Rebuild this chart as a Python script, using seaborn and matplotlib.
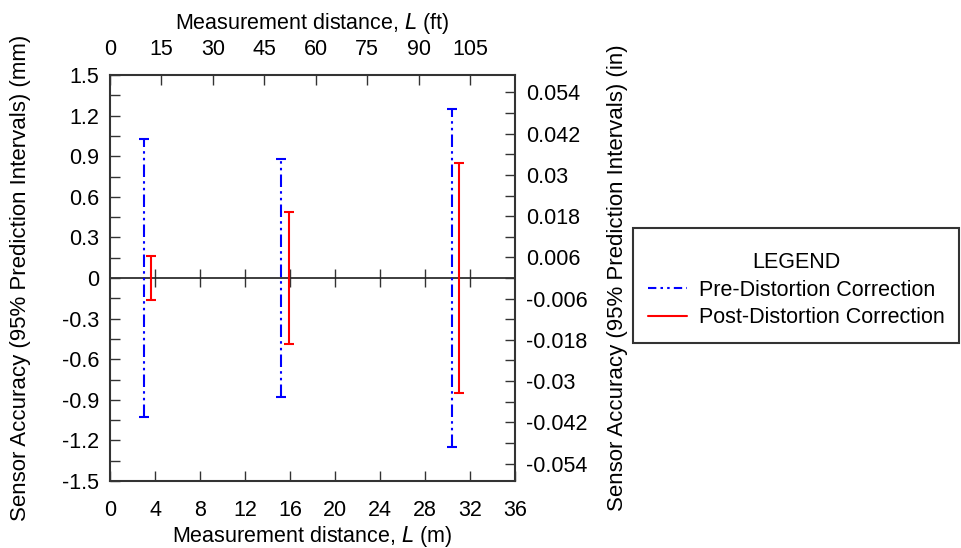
import numpy as np
import pandas as pd
import seaborn as sns
import matplotlib
matplotlib.use("Agg")
import matplotlib.pyplot as plt
from matplotlib.lines import Line2D
from matplotlib.offsetbox import DrawingArea
from matplotlib.ticker import MultipleLocator, FixedLocator

# ---- data ----
pre_x = [3.0, 15.2, 30.4]          # m
pre_lo = [-1.03, -0.88, -1.25]     # mm
pre_hi = [1.03, 0.88, 1.25]        # mm
post_x = [3.6, 15.9, 31.0]         # m
post_lo = [-0.16, -0.49, -0.85]    # mm
post_hi = [0.16, 0.49, 0.85]       # mm

left_ticks = [-1.5, -1.2, -0.9, -0.6, -0.3, 0, 0.3, 0.6, 0.9, 1.2, 1.5]
left_labels = ["-1.5", "-1.2", "-0.9", "-0.6", "-0.3", "0", "0.3", "0.6", "0.9", "1.2", "1.5"]
right_ticks = [-0.054, -0.042, -0.03, -0.018, -0.006, 0.006, 0.018, 0.03, 0.042, 0.054]
right_labels = ["-0.054", "-0.042", "-0.03", "-0.018", "-0.006", "0.006", "0.018", "0.03", "0.042", "0.054"]
right_minor = [-0.048, -0.036, -0.024, -0.012, 0, 0.012, 0.024, 0.036, 0.048]
bottom_ticks = [0, 4, 8, 12, 16, 20, 24, 28, 32, 36]
top_ticks = [0, 15, 30, 45, 60, 75, 90, 105]

df_pre = pd.DataFrame({"x": pre_x, "lo": pre_lo, "hi": pre_hi})
df_post = pd.DataFrame({"x": post_x, "lo": post_lo, "hi": post_hi})

sns.set_theme(style="white")
plt.rcParams["font.family"] = ["Liberation Sans", "DejaVu Sans"]
plt.rcParams["text.color"] = "black"
plt.rcParams["axes.labelcolor"] = "black"
plt.rcParams["xtick.labelcolor"] = "black"
plt.rcParams["ytick.labelcolor"] = "black"
plt.rcParams["legend.labelcolor"] = "black"
FS = 15.5
YFS = 16
TC = "#333333"

fig = plt.figure(figsize=(9.62, 5.48), dpi=100)
ax = fig.add_axes([110/962, 1-481/548, (515-110)/962, (481-75)/548])

blue_ls = (0, (6, 2, 1.2, 2, 1.2, 2))
ax.errorbar(df_pre["x"], [0]*3, yerr=[-df_pre["lo"], df_pre["hi"]], fmt="none",
            ecolor="#0000ff", elinewidth=1.5, capsize=3.6, capthick=1.5, zorder=3)
for c in ax.collections:
    c.set_linestyle(blue_ls)
ax.errorbar(df_post["x"], [0]*3, yerr=[-df_post["lo"], df_post["hi"]], fmt="none",
            ecolor="#ff0000", elinewidth=1.5, capsize=3.6, capthick=1.5, zorder=3)

ax.set_xlim(0, 36)
ax.set_ylim(-1.5, 1.5)
ax.set_yticks(left_ticks)
ax.set_yticklabels(left_labels)
ax.yaxis.set_minor_locator(MultipleLocator(0.15))
ax.set_xticks(bottom_ticks)
ax.set_xticklabels([str(t) for t in bottom_ticks])
ax.tick_params(axis="both", which="both", direction="in", labelsize=FS, color=TC,
               labelcolor="black", length=7, width=1)
ax.tick_params(axis="x", which="major", bottom=True, top=False, pad=14)
ax.tick_params(axis="y", which="both", left=True, right=False, pad=8)
for s in ax.spines.values():
    s.set_color(TC)
    s.set_linewidth(1.5)
ax.set_xlabel("Measurement distance, $\\mathit{L}$ (m)", fontsize=FS, labelpad=2, color="black")
ax.set_ylabel("Sensor Accuracy (95% Prediction Intervals) (mm)", fontsize=YFS, labelpad=22,
              color="black")

# zero axis with crossing ticks
zax = ax.secondary_xaxis(0.5)
zax.set_xticks(bottom_ticks[1:-1])
zax.set_xticklabels([])
zax.tick_params(direction="inout", length=13, width=1, labelbottom=False, labeltop=False,
                color=TC)
zax.spines["bottom"].set_linewidth(1.5)
zax.spines["bottom"].set_color("black")

# top axis in feet
top = ax.secondary_xaxis("top", functions=(lambda m: m / 0.3048, lambda f: f * 0.3048))
top.set_xticks(top_ticks)
top.tick_params(direction="in", length=7, width=1, labelsize=FS, color=TC, pad=11,
                labelcolor="black")
top.set_xlabel("Measurement distance, $\\mathit{L}$ (ft)", fontsize=FS, labelpad=7, color="black")

# right axis in inches
right = ax.secondary_yaxis("right", functions=(lambda mm: mm / 25.4, lambda i: i * 25.4))
right.set_yticks(right_ticks)
right.set_yticklabels(right_labels)
right.yaxis.set_minor_locator(FixedLocator(right_minor))
right.tick_params(which="both", direction="in", length=7, width=1, labelsize=FS, color=TC, pad=8,
                  labelcolor="black")
right.set_ylabel("Sensor Accuracy (95% Prediction Intervals) (in)", fontsize=YFS, labelpad=14,
                 color="black")

LFS = 15.5
handles = [Line2D([], [], color="#0000ff", lw=1.5, ls=(0, (4, 2, 1.2, 2, 1.2, 2))),
           Line2D([], [], color="#ff0000", lw=1.5)]
leg = fig.legend(handles, ["Pre-Distortion Correction", "Post-Distortion Correction"],
                 title="LEGEND", loc="upper left", bbox_to_anchor=(633/962, 1-228/548),
                 fontsize=LFS, title_fontsize=LFS, frameon=True, fancybox=False,
                 edgecolor="black", handlelength=1.8, borderpad=0.7, labelspacing=0.3,
                 handletextpad=0.55, borderaxespad=0)
leg.get_frame().set_linewidth(1.5)
leg.get_title().set_color("black")
try:
    leg._legend_box._children.insert(0, DrawingArea(1, 2))
except Exception:
    pass

fig.savefig("out.png", dpi=100)
